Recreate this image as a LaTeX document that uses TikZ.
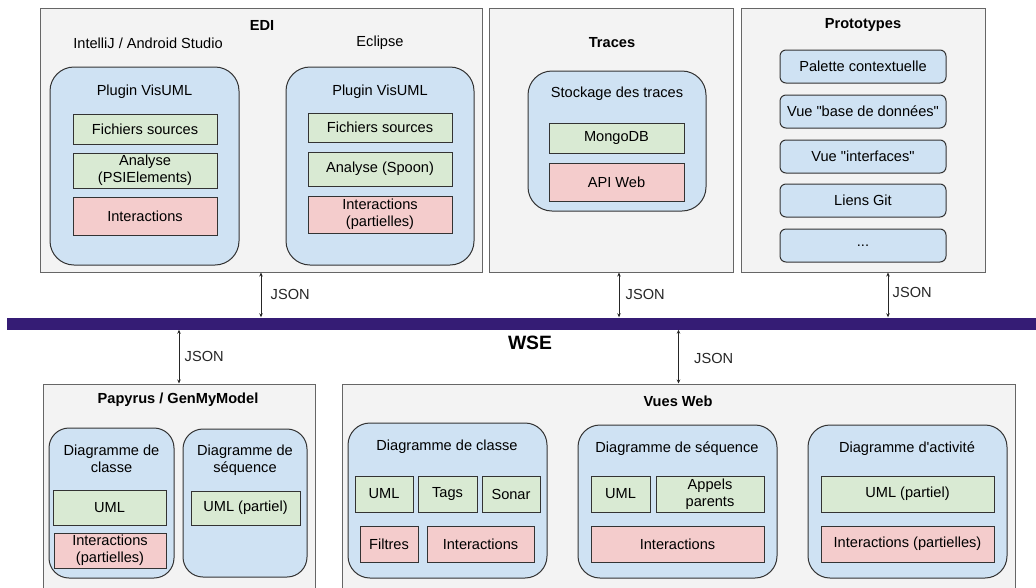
\documentclass[tikz,border=0pt]{standalone}
\usepackage{fontspec}
\setmainfont{Liberation Sans}
\usetikzlibrary{arrows.meta}
\definecolor{fondgris}{HTML}{F3F3F3}
\definecolor{bleuclair}{HTML}{CFE2F3}
\definecolor{vertclair}{HTML}{D9EAD3}
\definecolor{rougeclair}{HTML}{F4CCCC}
\definecolor{violetbus}{HTML}{351C75}

\tikzset{
  sz/.style 2 args={minimum width=#1pt, minimum height=#2pt},
  panel/.style={draw=black!60, fill=fondgris, line width=1pt, inner sep=0pt},
  grp/.style={draw=black!80, fill=bleuclair, line width=1pt, rounded corners=24pt, inner sep=0pt},
  proto/.style={draw=black!80, fill=bleuclair, line width=1pt, rounded corners=6pt, inner sep=0pt, align=center},
  vert/.style={draw=black!80, fill=vertclair, line width=1pt, inner sep=0pt, align=center},
  rouge/.style={draw=black!80, fill=rougeclair, line width=1pt, inner sep=0pt, align=center},
  titre/.style={font=\fontsize{14.6}{17}\selectfont\bfseries},
  fleche/.style={{Stealth[length=4pt,width=3.5pt]}-{Stealth[length=4pt,width=3.5pt]}, line width=0.8pt, black!85},
}

\begin{document}
\begin{tikzpicture}[x=1pt, y=-1pt, font=\fontsize{14.6}{17}\selectfont]
        \useasboundingbox (0,0) rectangle (1036,587);
        % Outer panels
        \node[panel, sz={442}{264}] (edi) at (261,140) {};
        \node[panel, sz={244}{264}] (traces) at (611,140) {};
        \node[panel, sz={244}{264}] (protos) at (863,140) {};
        \node[panel, sz={272}{204}] (papyrus) at (179,486) {};
        \node[panel, sz={673}{204}] (vues) at (678.5,486) {};
        % Bus WSE
        \node[fill=violetbus, inner sep=0pt, sz={1035}{12}] (wse) at (524.5,323.5) {};
        \node[font=\fontsize{19.3}{22}\selectfont\bfseries] (wse-label) at (530,343) {WSE};
        % EDI
        \node[titre] (edi-title) at (262,25) {EDI};
        \node (intellij) at (148,43) {IntelliJ / Android Studio};
        \node (eclipse) at (380,43) {Eclipse};
        \node[grp, sz={189}{198}] (plugin-ij) at (144.5,166) {};
        \node[grp, sz={188}{198}] (plugin-ec) at (380,166) {};
        \node (plugin-ij-label) at (144.5,92) {Plugin VisUML};
        \node (plugin-ec-label) at (380,92) {Plugin VisUML};
        \node[vert, sz={144}{30}] (src-ij) at (145,129) {Fichiers sources};
        \node[vert, sz={144}{35}] (ana-ij) at (145,170.5) {Analyse\\(PSIElements)};
        \node[rouge, sz={144}{38}] (int-ij) at (145,216) {Interactions};
        \node[vert, sz={144}{29}] (src-ec) at (380,127.5) {Fichiers sources};
        \node[vert, sz={144}{34}] (ana-ec) at (380,169) {Analyse (Spoon)};
        \node[rouge, sz={144}{37}] (int-ec) at (380,214.5) {Interactions\\(partielles)};
        % Traces
        \node[titre] (traces-title) at (612,43) {Traces};
        \node[grp, sz={178}{140}] (stockage) at (617,141) {};
        \node (stockage-label) at (617,94) {Stockage des traces};
        \node[vert, sz={135}{30}] (mongo) at (616.5,138) {MongoDB};
        \node[rouge, sz={135}{38}] (api) at (616.5,182) {API Web};
        % Prototypes
        \node[titre] (protos-title) at (863,25) {Prototypes};
        \node[proto, sz={166}{33}] (palette) at (863,66.5) {Palette contextuelle};
        \node[proto, sz={166}{33}] (vue-bd) at (863,111.5) {Vue \textquotedbl base de données\textquotedbl};
        \node[proto, sz={166}{33}] (vue-int) at (863,156.5) {Vue \textquotedbl interfaces\textquotedbl};
        \node[proto, sz={166}{33}] (git) at (863,200.5) {Liens Git};
        \node[proto, sz={166}{33}] (etc) at (863,245.5) {...};
        % Papyrus / GenMyModel
        \node[titre] (papyrus-title) at (178,400) {Papyrus / GenMyModel};
        \node[grp, rounded corners=20pt, sz={125}{150}] (pap-classe) at (111.5,503) {};
        \node[grp, rounded corners=20pt, sz={124}{148}] (pap-seq) at (245,503) {};
        \node[align=center] (pap-classe-label) at (111.5,458.5) {Diagramme de\\classe};
        \node[align=center] (pap-seq-label) at (245,460) {Diagramme de\\séquence};
        \node[vert, sz={113}{35}] (pap-uml) at (109.5,507.5) {UML};
        \node[rouge, sz={112}{35}] (pap-int) at (110,550.5) {Interactions\\(partielles)};
        \node[vert, sz={109}{34}] (pap-uml-seq) at (245.5,508) {UML (partiel)};
        % Vues Web
        \node[titre] (vues-title) at (678,401) {Vues Web};
        \node[grp, rounded corners=22pt, sz={199}{155}] (web-classe) at (447.5,500.5) {};
        \node[grp, rounded corners=22pt, sz={199}{153}] (web-seq) at (677.5,501.5) {};
        \node[grp, rounded corners=22pt, sz={199}{153}] (web-act) at (907.5,501.5) {};
        \node (web-classe-label) at (447,447) {Diagramme de classe};
        \node (web-seq-label) at (677,449) {Diagramme de séquence};
        \node (web-act-label) at (907,449) {Diagramme d\textquotesingle activité};
        \node[vert, sz={58}{36}] (wc-uml) at (384,494) {UML};
        \node[vert, sz={59}{36}] (wc-tags) at (447.5,494) {Tags};
        \node[vert, sz={58}{36}] (wc-sonar) at (511,494) {Sonar};
        \node[rouge, sz={58}{36}] (wc-filtres) at (389,544) {Filtres};
        \node[rouge, sz={107}{36}] (wc-int) at (480.5,544) {Interactions};
        \node[vert, sz={59}{36}] (ws-uml) at (620.5,494) {UML};
        \node[vert, sz={108}{36}] (ws-appels) at (710,494) {Appels\\parents};
        \node[rouge, sz={173}{36}] (ws-int) at (677.5,544) {Interactions};
        \node[vert, sz={173}{36}] (wa-uml) at (907.5,494) {UML (partiel)};
        \node[rouge, sz={173}{36}] (wa-int) at (907.5,544) {Interactions (partielles)};
        % JSON links to the bus
        \draw[fleche] (edi.south) -- (edi.south |- wse.north) node[midway, right=6pt] {JSON};
        \draw[fleche] ([xshift=8pt]traces.south) -- ([xshift=8pt]traces.south |- wse.north) node[midway, right=3pt] {JSON};
        \draw[fleche] ([xshift=25pt]protos.south) -- ([xshift=25pt]protos.south |- wse.north) node[midway, right=1pt, yshift=2pt] {JSON};
        \draw[fleche] (papyrus.north) -- (papyrus.north |- wse.south) node[midway, right=2pt] {JSON};
        \draw[fleche] (vues.north) -- (vues.north |- wse.south) node[midway, right=12pt, yshift=-2pt] {JSON};
\end{tikzpicture}
\end{document}
